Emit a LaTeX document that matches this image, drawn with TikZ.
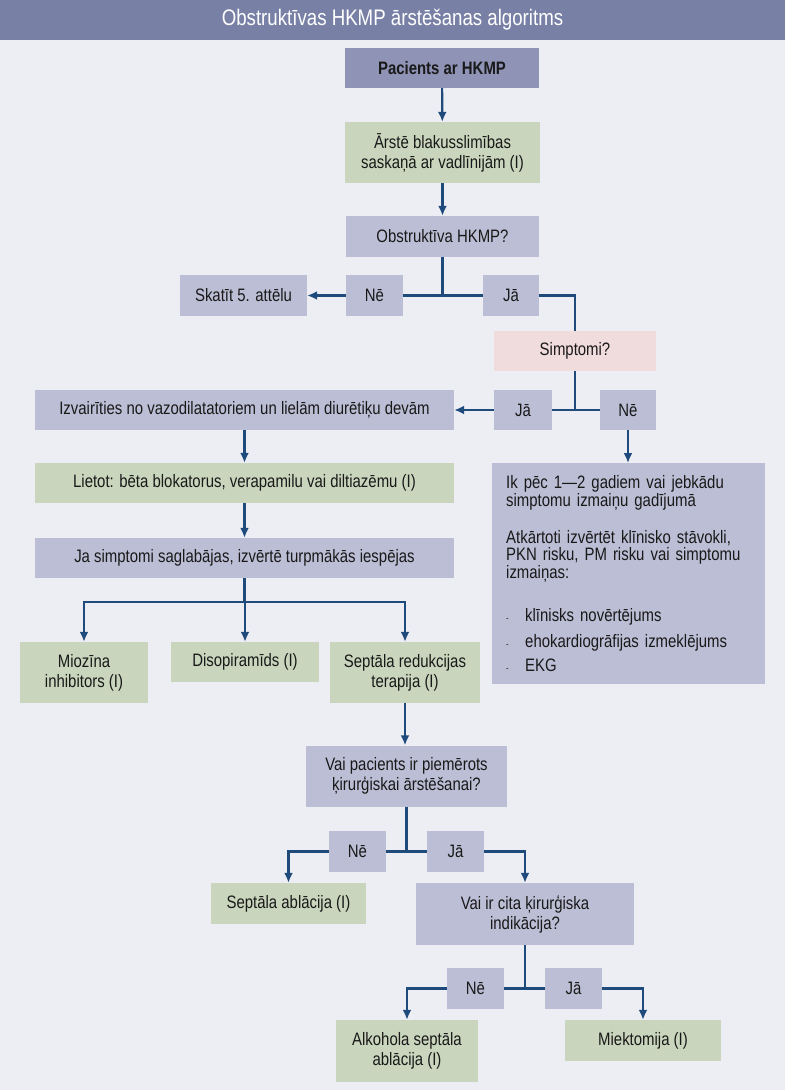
\documentclass[tikz,border=0pt]{standalone}
\usepackage{fontspec}
\setmainfont[FakeStretch=0.83]{Liberation Sans}
\usetikzlibrary{arrows.meta}

\definecolor{pagebg}{HTML}{EDEEF4}
\definecolor{titlebar}{HTML}{7880A5}
\definecolor{startfill}{HTML}{8F94B7}
\definecolor{nodegrey}{HTML}{BCBED5}
\definecolor{nodegreen}{HTML}{C9D6BD}
\definecolor{nodepink}{HTML}{F0DBDD}
\definecolor{linkblue}{HTML}{1E4A7C}

\begin{document}
\setlength{\lineskiplimit}{-20pt}
\setlength{\lineskip}{0pt}
\begin{tikzpicture}[x=1pt,y=-1pt,
  box/.style={rectangle,inner sep=0pt,align=center,text=black!90,
    font=\fontsize{18}{20}\selectfont},
  greybox/.style={box,fill=nodegrey},
  greenbox/.style={box,fill=nodegreen},
  link/.style={draw=linkblue,line width=2.2pt},
  arr/.style={link,-{Latex[length=10pt,width=9pt]}}]
  \path[use as bounding box,fill=pagebg] (0,0) rectangle (785,1090);
  \fill[titlebar] (0,0) rectangle (785,40);
  \node[text=white,font=\fontsize{22.5}{24}\selectfont] (title) at (392.5,20)
    {Obstruktīvas HKMP ārstēšanas algoritms};

  % top part
  \node[box,fill=startfill,font=\fontsize{18}{20}\selectfont\bfseries,
    minimum width=194pt,minimum height=40pt] (start) at (442,68) {Pacients ar HKMP};
  \node[greenbox,minimum width=195pt,minimum height=61pt] (comorb) at (442.5,152.5)
    {Ārstē blakusslimības\\saskaņā ar vadlīnijām (I)};
  \node[greybox,minimum width=193pt,minimum height=41pt] (obstr) at (442.5,236.5) {Obstruktīva HKMP?};
  \node[greybox,minimum width=57pt,minimum height=41pt] (ne1) at (374.5,295.5) {Nē};
  \node[greybox,minimum width=56pt,minimum height=41pt] (ja1) at (511,295.5) {Jā};
  \node[greybox,minimum width=127pt,minimum height=41pt] (skatit) at (243.5,295.5) {Skatīt 5. attēlu};
  \node[box,fill=nodepink,minimum width=162pt,minimum height=40pt] (sympt) at (575,351) {Simptomi?};
  \node[greybox,minimum width=58pt,minimum height=40pt] (ja2) at (523,410) {Jā};
  \node[greybox,minimum width=56pt,minimum height=40pt] (ne2) at (628,410) {Nē};

  % left column
  \node[greybox,minimum width=419pt,minimum height=40pt] (avoid) at (244.5,410)
    {Izvairīties no vazodilatatoriem un lielām diurētiķu devām};
  \node[greenbox,minimum width=419pt,minimum height=40pt] (lietot) at (244.5,483)
    {Lietot: bēta blokatorus, verapamilu vai diltiazēmu (I)};
  \node[greybox,minimum width=419pt,minimum height=40pt] (persist) at (244.5,558)
    {Ja simptomi saglabājas, izvērtē turpmākās iespējas};
  \node[greenbox,minimum width=128pt,minimum height=61pt] (miozin) at (84,672.5)
    {Miozīna\\inhibitors (I)};
  \node[greenbox,minimum width=148pt,minimum height=40pt] (disop) at (245,662) {Disopiramīds (I)};
  \node[greenbox,minimum width=150pt,minimum height=61pt] (septred) at (405,672.5)
    {Septāla redukcijas\\terapija (I)};

  % right box
  \node[greybox,anchor=north west,align=left,text width=245pt,inner xsep=14pt,
    minimum height=221pt,font=\fontsize{18}{16.5}\selectfont]
    (followup) at (492,463)
    {Ik pēc 1—2 gadiem vai jebkādu\\
     simptomu izmaiņu gadījumā\\[19.5pt]
     Atkārtoti izvērtēt klīnisko stāvokli,\\
     PKN risku, PM risku vai simptomu\\
     izmaiņas:\\[25.5pt]
     \makebox[19pt][l]{\fontsize{9}{9}\selectfont -}klīnisks novērtējums\\[8pt]
     \makebox[19pt][l]{\fontsize{9}{9}\selectfont -}ehokardiogrāfijas izmeklējums\\[8pt]
     \makebox[19pt][l]{\fontsize{9}{9}\selectfont -}EKG};

  % surgery part
  \node[greybox,minimum width=201pt,minimum height=61pt] (surg) at (406.5,776)
    {Vai pacients ir piemērots\\ķirurģiskai ārstēšanai?};
  \node[greybox,minimum width=57pt,minimum height=41pt] (ne3) at (357.5,851.5) {Nē};
  \node[greybox,minimum width=57pt,minimum height=41pt] (ja3) at (455.5,851.5) {Jā};
  \node[greenbox,minimum width=155pt,minimum height=41pt] (ablac) at (288.5,903.5) {Septāla ablācija (I)};
  \node[greybox,minimum width=218pt,minimum height=62pt] (other) at (525,914)
    {Vai ir cita ķirurģiska\\indikācija?};
  \node[greybox,minimum width=57pt,minimum height=41pt] (ne4) at (475.5,988.5) {Nē};
  \node[greybox,minimum width=57pt,minimum height=41pt] (ja4) at (573.5,988.5) {Jā};
  \node[greenbox,minimum width=142pt,minimum height=62pt] (alcohol) at (407,1051)
    {Alkohola septāla\\ablācija (I)};
  \node[greenbox,minimum width=156pt,minimum height=41pt] (myect) at (643,1040.5) {Miektomija (I)};

  % connectors
  \draw[arr] (start) -- (comorb);
  \draw[arr] (comorb) -- (obstr);
  \draw[link] (obstr.south) -- (obstr.south |- ne1);
  \draw[link] (ne1.east) -- (ja1.west);
  \draw[arr] (ne1) -- (skatit);
  \draw[link] (ja1.east) -| (sympt.north);
  \draw[link] (sympt.south) -- (sympt.south |- ja2);
  \draw[link] (ja2.east) -- (ne2.west);
  \draw[arr] (ja2) -- (avoid);
  \draw[arr] (ne2.south) -- (ne2.south |- followup.north);
  \draw[arr] (avoid) -- (lietot);
  \draw[arr] (lietot) -- (persist);

  \coordinate (fork) at (244.5,602);
  \draw[link] (persist.south) -- (fork);
  \draw[arr] (fork) -| (miozin.north);
  \draw[arr] (fork) -| (septred.north);
  \draw[arr] (fork -| disop.north) -- (disop.north);
  \draw[arr] (septred.south) -- (septred.south |- surg.north);

  \draw[link] (surg.south) -- (surg.south |- ne3);
  \draw[link] (ne3.east) -- (ja3.west);
  \draw[arr] (ne3.west) -| (ablac.north);
  \draw[arr] (ja3.east) -| (other.north);
  \draw[link] (other.south) -- (other.south |- ne4);
  \draw[link] (ne4.east) -- (ja4.west);
  \draw[arr] (ne4.west) -| (alcohol.north);
  \draw[arr] (ja4.east) -| (myect.north);
\end{tikzpicture}
\end{document}
